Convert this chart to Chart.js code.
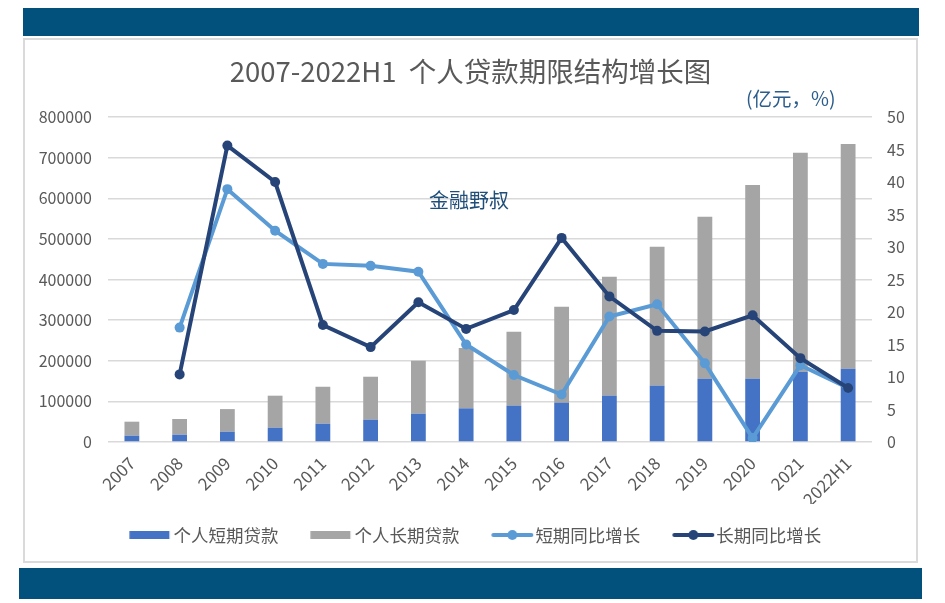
<!DOCTYPE html>
<html>
<head>
<meta charset="utf-8">
<script src="https://cdn.jsdelivr.net/npm/chart.js@4.4.1/dist/chart.umd.min.js"></script>
<style>
  body { margin: 0; background: #fff; }
  #page { position: relative; width: 945px; height: 603px; overflow: hidden; font-family: "Noto Sans CJK SC", sans-serif; }
  .band { position: absolute; background: #02517c; }
  #box { position: absolute; left: 23px; top: 38px; width: 895px; height: 525px; border: 2px solid #dadada; box-sizing: border-box; }
  #unit { position: absolute; left: 746px; top: 83px; font-size: 19.5px; color: #2a5d8c; }
  #mark { position: absolute; left: 429px; top: 185px; font-size: 20px; color: #1f4e79; }
  canvas { position: absolute; left: 0; top: 0; }
</style>
</head>
<body>
<div id="page">
  <div class="band" style="left:23px;top:8px;width:896px;height:28px"></div>
  <div id="box"></div>
  <div class="band" style="left:19px;top:568px;width:903px;height:31px"></div>
  <canvas id="myChart" width="945" height="603"></canvas>
  <div id="unit">(亿元，%)</div>
  <div id="mark">金融野叔</div>
</div>
<script>
// data
const years = ["2007", "2008", "2009", "2010", "2011", "2012", "2013", "2014", "2015", "2016", "2017", "2018", "2019", "2020", "2021", "2022H1"];
const shortLoans = [15500, 18000, 25300, 35200, 45000, 55000, 69700, 82900, 89400, 96800, 114000, 138600, 155800, 155800, 173000, 180400];
const longLoans = [34500, 38600, 55700, 78800, 91000, 105700, 130300, 148500, 182100, 236200, 293000, 342100, 398800, 476800, 539100, 553100];
const shortGrowth = [null, 17.6, 38.9, 32.5, 27.4, 27.1, 26.2, 15.0, 10.3, 7.3, 19.3, 21.2, 12.1, 0.6, 11.8, 8.3];
const longGrowth = [null, 10.4, 45.6, 40.0, 18.0, 14.6, 21.5, 17.4, 20.3, 31.4, 22.4, 17.1, 17.0, 19.5, 12.9, 8.3];

const cBlue = "#4472c4", cGray = "#a5a5a5", cLight = "#5b9bd5", cDark = "#264478";
const tickColor = "#595959";
const fontFam = "'Noto Sans CJK SC', sans-serif";

// legend swatches: 60px wide image, the 40px mark sits to the right so it hugs the text
const SW = 60, SX = 17.25;
function barSwatch(color) {
  const c = document.createElement("canvas");
  c.width = SW; c.height = 8;
  const g = c.getContext("2d");
  g.fillStyle = color;
  g.fillRect(SX, 0, 40, 8);
  return c;
}
function lineSwatch(color) {
  const c = document.createElement("canvas");
  c.width = SW; c.height = 12;
  const g = c.getContext("2d");
  g.strokeStyle = color;
  g.lineWidth = 4;
  g.lineCap = "round";
  g.beginPath(); g.moveTo(SX + 2, 6); g.lineTo(SX + 40, 6); g.stroke();
  g.fillStyle = color;
  g.beginPath(); g.arc(SX + 21, 6, 5, 0, Math.PI * 2); g.fill();
  return c;
}
const swatches = [barSwatch(cBlue), barSwatch(cGray), lineSwatch(cLight), lineSwatch(cDark)];

const ctx = document.getElementById("myChart").getContext("2d");
const myChart = new Chart(ctx, {
  type: "bar",
  data: {
    labels: years,
    datasets: [{
      label: "个人短期贷款",
      data: shortLoans,
      backgroundColor: cBlue,
      yAxisID: "y",
      stack: "s",
      order: 3,
      barPercentage: 0.31,
      categoryPercentage: 1
    }, {
      label: "个人长期贷款",
      data: longLoans,
      backgroundColor: cGray,
      yAxisID: "y",
      stack: "s",
      order: 3,
      barPercentage: 0.31,
      categoryPercentage: 1
    }, {
      type: "line",
      label: "短期同比增长",
      data: shortGrowth,
      borderColor: cLight,
      backgroundColor: cLight,
      borderWidth: 4,
      pointRadius: 5,
      pointBorderWidth: 0,
      tension: 0,
      spanGaps: true,
      yAxisID: "y1",
      order: 1
    }, {
      type: "line",
      label: "长期同比增长",
      data: longGrowth,
      borderColor: cDark,
      backgroundColor: cDark,
      borderWidth: 4,
      pointRadius: 5,
      pointBorderWidth: 0,
      tension: 0,
      spanGaps: true,
      yAxisID: "y1",
      order: 0
    }]
  },
  options: {
    responsive: false,
    animation: false,
    layout: { padding: { left: 23, right: 27, top: 0, bottom: 49.25 } },
    plugins: {
      tooltip: { enabled: false },
      title: {
        display: true,
        text: "2007-2022H1  个人贷款期限结构增长图",
        color: tickColor,
        font: { family: fontFam, size: 27.5, weight: "normal" },
        padding: { top: 55, bottom: 29 }
      },
      legend: {
        position: "bottom",
        labels: {
          color: tickColor,
          font: { family: fontFam, size: 17.5 },
          usePointStyle: true,
          pointStyleWidth: 45,
          padding: 22.25,
          sort: (a, b) => a.datasetIndex - b.datasetIndex,
          generateLabels: (chart) => chart.data.datasets.map((ds, i) => ({
            text: ds.label,
            pointStyle: swatches[i],
            fontColor: tickColor,
            datasetIndex: i,
            hidden: false,
            lineWidth: 0
          }))
        }
      }
    },
    scales: {
      x: {
        grid: { display: false },
        border: { display: false },
        ticks: {
          color: tickColor,
          font: { family: fontFam, size: 17 },
          minRotation: 45,
          maxRotation: 45,
          padding: 3
        },
        afterFit: (s) => { s.height = 62; }
      },
      y: {
        position: "left",
        min: 0,
        max: 800000,
        stacked: true,
        grid: { color: "#d9d9d9", lineWidth: 1.5, drawTicks: false },
        border: { display: false },
        ticks: {
          stepSize: 100000,
          color: tickColor,
          font: { family: fontFam, size: 16 },
          padding: 16,
          callback: (v) => String(v)
        },
        afterFit: (s) => { s.width = 85; }
      },
      y1: {
        position: "right",
        min: 0,
        max: 50,
        grid: { display: false, drawTicks: false },
        border: { display: false },
        ticks: {
          stepSize: 5,
          color: tickColor,
          font: { family: fontFam, size: 16 },
          padding: 15
        },
        afterFit: (s) => { s.width = 46; }
      }
    }
  }
});
</script>
</body>
</html>
